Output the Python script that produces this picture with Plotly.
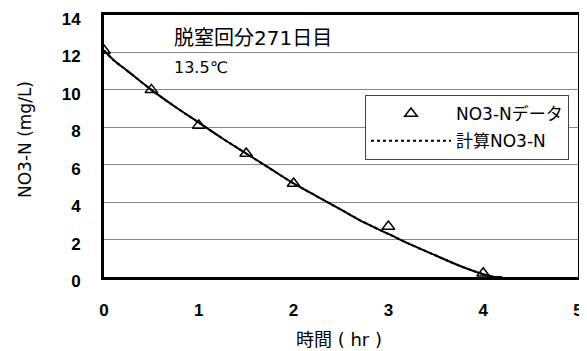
import plotly.graph_objects as go

# Measured data
data_t = [0, 0.5, 1, 1.5, 2, 3, 4]
data_no3 = [12.1, 10.0, 8.1, 6.6, 5.0, 2.7, 0.2]

# Calculated curve
calc_t = [0, 0.1, 0.25, 0.5, 0.75, 1.0, 1.25, 1.5, 1.75, 2.0, 2.25, 2.5, 2.75, 3.0, 3.25, 3.5, 3.75, 4.0, 4.1, 4.2]
calc_no3 = [12.1, 11.6, 11.0, 10.0, 9.1, 8.25, 7.4, 6.6, 5.8, 5.0, 4.3, 3.6, 2.9, 2.3, 1.7, 1.15, 0.6, 0.15, 0.02, 0.0]

x_ticks = [0, 1, 2, 3, 4, 5]
y_ticks = [0, 2, 4, 6, 8, 10, 12, 14]

FONT = "DejaVu Sans, Noto Sans CJK JP, sans-serif"
TICKFONT = "Liberation Sans, Noto Sans CJK JP, sans-serif"

# figure geometry (page renders with an 8px body offset)
W, H = 579, 343
L, R, T, B = 96, 9, 7, 74
PW, PH = W - L - R, H - T - B


def px(xs):
    return (xs - 8 - L) / PW


def py(ys):
    return (H - B - (ys - 8)) / PH


fig = go.Figure()
fig.add_trace(go.Scatter(
    x=data_t, y=data_no3, mode="markers", name="NO3-Nデータ", legendgroup="a",
    marker=dict(symbol="triangle-up-open", size=11, color="black", line=dict(width=1.5, color="black")),
))
fig.add_trace(go.Scatter(
    x=calc_t, y=calc_no3, mode="lines", name="計算NO3-N", legendgroup="b",
    line=dict(color="black", width=2, dash="dot", shape="spline"),
))
fig.add_trace(go.Scatter(
    x=calc_t, y=calc_no3, mode="lines", showlegend=False,
    line=dict(color="black", width=2, shape="spline"),
))

fig.update_layout(
    width=W, height=H,
    margin=dict(l=L, r=R, t=T, b=B, autoexpand=False),
    paper_bgcolor="white", plot_bgcolor="white",
    font=dict(family=FONT, size=16, color="black"),
    showlegend=True,
    legend=dict(
        x=px(365), y=py(95), xanchor="left", yanchor="top",
        bgcolor="white", bordercolor="#444", borderwidth=1,
        font=dict(family=FONT, size=17, color="black"),
        itemwidth=80, tracegroupgap=2,
    ),
    xaxis=dict(
        range=[0, 5], tickvals=x_ticks, ticks="", showgrid=False, zeroline=False,
        showline=True, linecolor="black", linewidth=3, mirror=True,
        automargin=False, ticklabelstandoff=16, ticklabeloverflow="allow",
        tickfont=dict(family=TICKFONT, size=17, weight="bold"),
    ),
    yaxis=dict(
        range=[0, 14], tickvals=y_ticks, ticks="", showgrid=True, gridcolor="#888", gridwidth=1,
        zeroline=False, showline=True, linecolor="black", linewidth=3, mirror=True,
        automargin=False, ticklabelstandoff=17, ticklabeloverflow="allow", ticklabelshift=4,
        tickfont=dict(family=TICKFONT, size=17, weight="bold"),
    ),
)

fig.add_annotation(x=px(172), y=py(38), xref="paper", yref="paper", xanchor="left", yanchor="middle",
                   text="脱窒回分271日目", showarrow=False,
                   font=dict(family=FONT, size=20, color="black"))
fig.add_annotation(x=px(172), y=py(67), xref="paper", yref="paper", xanchor="left", yanchor="middle",
                   text="13.5℃", showarrow=False,
                   font=dict(family=FONT, size=16, color="black"))
fig.add_annotation(x=px(339), y=py(339), xref="paper", yref="paper", xanchor="center", yanchor="middle",
                   text="時間 ( hr )", showarrow=False,
                   font=dict(family=FONT, size=18, color="black"))
fig.add_annotation(x=px(25), y=py(140), xref="paper", yref="paper", xanchor="center", yanchor="middle",
                   text="NO3-N (mg/L)", textangle=-90, showarrow=False,
                   font=dict(family=FONT, size=17, color="black"))

fig.write_html("out.html")
